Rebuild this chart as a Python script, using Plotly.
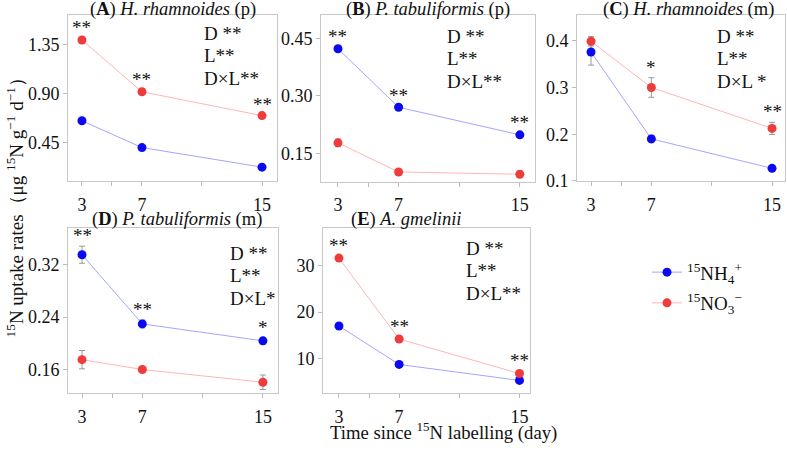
import plotly.graph_objects as go

W, H = 787, 453

days = [3, 7, 15]

panel_titles = [
    "(<b>A</b>) <i>H. rhamnoides</i> (p)",
    "(<b>B</b>) <i>P. tabuliformis</i> (p)",
    "(<b>C</b>) <i>H. rhamnoides</i> (m)",
    "(<b>D</b>) <i>P. tabuliformis</i> (m)",
    "(<b>E</b>) <i>A. gmelinii</i>",
]

nh4_A = [0.65, 0.405, 0.226]
no3_A = [1.388, 0.915, 0.697]
nh4_A_err = [0.01, 0.01, 0.008]
no3_A_err = [0.015, 0.012, 0.01]

nh4_B = [0.423, 0.270, 0.198]
no3_B = [0.177, 0.101, 0.095]
nh4_B_err = [0.004, 0.004, 0.004]
no3_B_err = [0.010, 0.004, 0.008]

nh4_C = [0.376, 0.190, 0.127]
no3_C = [0.399, 0.300, 0.2125]
nh4_C_err = [0.028, 0.008, 0.003]
no3_C_err = [0.010, 0.021, 0.013]

nh4_D = [0.335, 0.2295, 0.2037]
no3_D = [0.175, 0.160, 0.1406]
nh4_D_err = [0.013, 0.006, 0.005]
no3_D_err = [0.014, 0.003, 0.011]

nh4_E = [17.0, 8.74, 5.3]
no3_E = [31.6, 14.2, 6.78]
nh4_E_err = [0.3, 0.3, 0.3]
no3_E_err = [0.4, 0.4, 0.5]

sig_A = ["**", "**", "**"]
sig_B = ["**", "**", "**"]
sig_C = ["", "*", "**"]
sig_D = ["**", "**", "*"]
sig_E = ["**", "**", "**"]

stats_A = ["D **", "L**", "D×L**"]
stats_B = ["D **", "L**", "D×L**"]
stats_C = ["D **", "L**", "D×L *"]
stats_D = ["D **", "L**", "D×L*"]
stats_E = ["D **", "L**", "D×L**"]

y_ticks_A = [0.45, 0.90, 1.35]
y_ticks_B = [0.15, 0.30, 0.45]
y_ticks_C = [0.1, 0.2, 0.3, 0.4]
y_ticks_D = [0.16, 0.24, 0.32]
y_ticks_E = [10, 20, 30]

x_ticks = [3, 7, 15]
x_minor_ticks = [5, 11]

series_names = ["<sup>15</sup>NH<sub>4</sub><sup>+</sup>", "<sup>15</sup>NO<sub>3</sub><sup>−</sup>"]

# layout (pixel boxes)
boxes = [
    (68, 277, 15, 185),
    (321, 535, 15, 186),
    (577, 785, 15, 185),
    (68, 278, 233, 402),
    (323, 530, 233, 402),
]
title_pos = [(172.5, 10), (427.5, 10), (688.5, 10), (177, 224), (406, 224)]
yranges = [[0.10, 1.62], [0.075, 0.512], [0.1, 0.456], [0.124, 0.376], [2.57, 38.1]]
xranges = [[2.07, 16.0], [1.88, 16.0], [2.07, 15.86], [2.07, 16.0], [1.94, 15.7]]
yfmt = [".2f", ".2f", ".1f", ".2f", "d"]
stat_pos = [(202, 33), (445, 36), (715, 36), (228, 258), (464, 253)]

panels = [
    (nh4_A, no3_A, nh4_A_err, no3_A_err, sig_A, "no3", stats_A, y_ticks_A),
    (nh4_B, no3_B, nh4_B_err, no3_B_err, sig_B, "nh4", stats_B, y_ticks_B),
    (nh4_C, no3_C, nh4_C_err, no3_C_err, sig_C, "no3", stats_C, y_ticks_C),
    (nh4_D, no3_D, nh4_D_err, no3_D_err, sig_D, "nh4", stats_D, y_ticks_D),
    (nh4_E, no3_E, nh4_E_err, no3_E_err, sig_E, "no3", stats_E, y_ticks_E),
]

BLUE = "#0A0AF0"
RED = "#EE3B3B"
BLUE_L = "rgba(90,90,255,0.55)"
RED_L = "rgba(255,120,120,0.55)"
FONT = "Liberation Serif"
TXT = "#111111"

fig = go.Figure()
annotations = []
layout = {}

def px_x(p):
    return p / W

def px_y(p):
    return 1 - p / H

for i, (nh4, no3, e1, e2, sig, sigser, stats, yt) in enumerate(panels):
    k = "" if i == 0 else str(i + 1)
    xa, ya = "x" + k, "y" + k
    x0, x1, y0, y1 = boxes[i]
    for vals, errs, name, mc, lc, grp in [(nh4, e1, series_names[0], BLUE, BLUE_L, "nh4"),
                                           (no3, e2, series_names[1], RED, RED_L, "no3")]:
        fig.add_trace(go.Scatter(
            x=days, y=vals, mode="lines+markers", name=name, legendgroup=grp,
            xaxis=xa, yaxis=ya, showlegend=(i == 0),
            line=dict(color=lc, width=1),
            marker=dict(color=mc, size=9),
            error_y=dict(type="data", array=errs, color="#999999", thickness=1, width=3),
        ))
    layout["xaxis" + k] = dict(
        domain=[px_x(x0), px_x(x1)], anchor=ya, range=xranges[i],
        tickmode="array", tickvals=x_ticks, ticks="outside", ticklen=4,
        ticklabelstandoff=3,
        tickcolor="#BBBBBB", showline=True, mirror=True, linecolor="#C8C8C8",
        showgrid=False, zeroline=False,
        minor=dict(tickmode="array", tickvals=x_minor_ticks, ticks="outside",
                   ticklen=4, tickcolor="#BBBBBB", showgrid=False),
        tickfont=dict(family=FONT, size=18, color=TXT),
    )
    layout["yaxis" + k] = dict(
        domain=[px_y(y1), px_y(y0)], anchor=xa, range=yranges[i],
        tickmode="array", tickvals=yt, tickformat=yfmt[i], ticks="outside", ticklen=4,
        tickcolor="#BBBBBB", showline=True, mirror=True, linecolor="#C8C8C8",
        showgrid=False, zeroline=False,
        tickfont=dict(family=FONT, size=18, color=TXT),
    )
    # title
    tx, ty = title_pos[i]
    annotations.append(dict(
        text=panel_titles[i], x=px_x(tx), y=px_y(ty),
        xref="paper", yref="paper", xanchor="center", yanchor="middle",
        showarrow=False, font=dict(family=FONT, size=18.5, color=TXT),
    ))
    # significance stars
    top_vals = no3 if sigser == "no3" else nh4
    top_err = e2 if sigser == "no3" else e1
    for d, v, e, s in zip(days, top_vals, top_err, sig):
        if s:
            annotations.append(dict(
                text=s, x=d, y=v + e, xref=xa, yref=ya, xanchor="center",
                yanchor="bottom", yshift=-2, showarrow=False,
                font=dict(family=FONT, size=19, color=TXT),
            ))
    # stats text
    sx, sy = stat_pos[i]
    for j, t in enumerate(stats):
        annotations.append(dict(
            text=t, x=px_x(sx), y=px_y(sy + 1 + j * 23), xref="paper", yref="paper",
            xanchor="left", yanchor="middle", showarrow=False,
            font=dict(family=FONT, size=19, color=TXT),
        ))

annotations.append(dict(
    text="<sup>15</sup>N uptake rates（μg <sup>15</sup>N g<sup>−1</sup> d<sup>−1</sup>）",
    x=px_x(15), y=px_y(208), xref="paper", yref="paper", textangle=-90,
    xanchor="center", yanchor="middle", showarrow=False,
    font=dict(family=FONT, size=19, color=TXT),
))
annotations.append(dict(
    text="Time since <sup>15</sup>N labelling (day)",
    x=px_x(443), y=px_y(441), xref="paper", yref="paper",
    xanchor="center", yanchor="middle", showarrow=False,
    font=dict(family=FONT, size=18.7, color=TXT),
))

fig.update_layout(
    width=W, height=H, margin=dict(l=0, r=0, t=0, b=0),
    paper_bgcolor="white", plot_bgcolor="white",
    font=dict(family=FONT, color=TXT),
    annotations=annotations,
    legend=dict(x=px_x(647), y=px_y(259), xanchor="left", yanchor="top",
                font=dict(family=FONT, size=19, color=TXT),
                bgcolor="rgba(0,0,0,0)", itemwidth=30, tracegroupgap=3),
    **layout,
)

fig.write_html("out.html", config={"displayModeBar": False},
               post_script="document.body.style.margin='0';document.body.style.padding='0';")
